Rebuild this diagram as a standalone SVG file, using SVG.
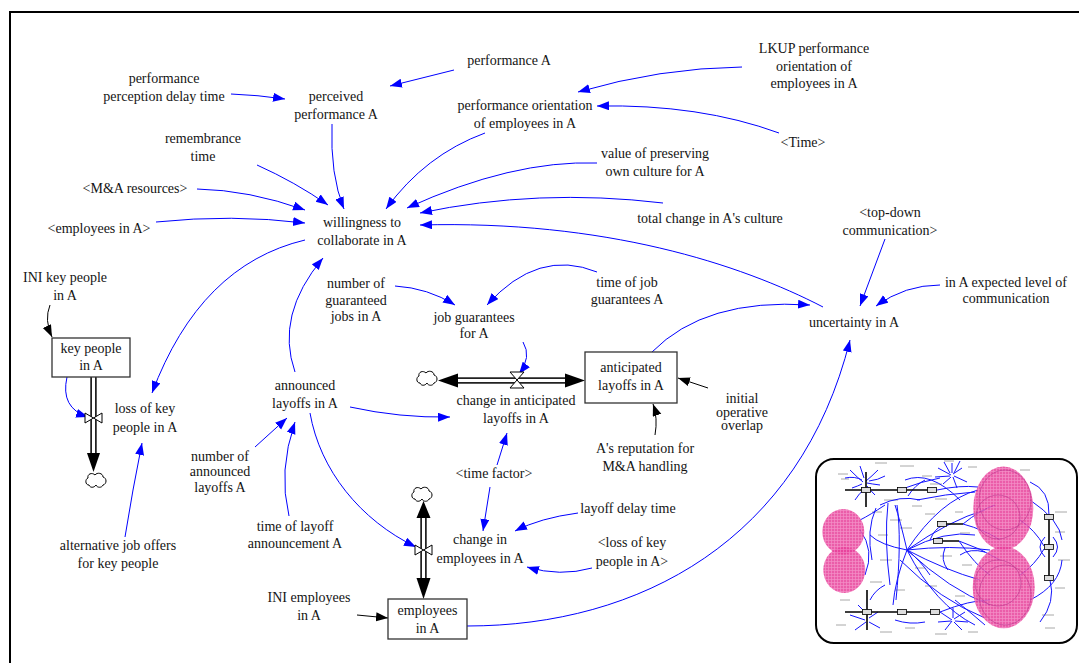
<svg xmlns="http://www.w3.org/2000/svg" width="1079" height="663" viewBox="0 0 1079 663">
  <style>
    .lbl { font-family: "Liberation Serif", "Times New Roman", serif; font-size: 14px; fill: #141414; text-anchor: middle; }
    .link { fill: none; stroke: #0000ff; stroke-width: 1; marker-end: url(#ab); }
    .klink { fill: none; stroke: #000; stroke-width: 1; marker-end: url(#ak); }
    .stock { fill: #fff; stroke: #333; stroke-width: 1.3; }
    .pipe-o { fill: none; stroke: #222; stroke-width: 6.5; }
    .pipe-i { fill: none; stroke: #fff; stroke-width: 3; }
    .valve { fill: #fff; stroke: #000; stroke-width: 1; }
    .head { fill: #000; }
    .cloud { fill: #fff; stroke: #000; stroke-width: 1; }
    .mini-blue { fill: none; stroke: #1414ff; stroke-width: 1; }
    .mini-flow { fill: none; stroke: #000; stroke-width: 1.6; }
    .mini-box { fill: #ddd; stroke: #000; stroke-width: 0.8; }
    .mini-txt { fill: none; stroke: #a8a8a8; stroke-width: 1; }
    .blob { fill: url(#grid); opacity: 0.85; }
    .ring { fill: none; stroke: #b8308a; stroke-width: 0.8; opacity: 0.7; }
  </style>
  <defs>
    <marker id="ab" markerUnits="userSpaceOnUse" markerWidth="13" markerHeight="10" refX="12" refY="4.5" orient="auto">
      <path d="M0,0 L12,4.5 L0,9 Z" fill="#0000ff"/>
    </marker>
    <marker id="ak" markerUnits="userSpaceOnUse" markerWidth="13" markerHeight="10" refX="12" refY="4.5" orient="auto">
      <path d="M0,0 L12,4.5 L0,9 Z" fill="#000"/>
    </marker>
    <path id="cloudShape" class="cloud" d="M-7,5 C-11,5 -11,-1 -8,-2 C-9,-6 -4,-8 -1,-5 C1,-8 7,-7 7,-3 C11,-2 11,4 7,5 C6,8 1,8 0,5 C-2,8 -6,8 -7,5 Z"/>
    <pattern id="grid" width="3" height="3" patternUnits="userSpaceOnUse">
      <rect width="3" height="3" fill="#e8409a"/>
      <path d="M0,0.5 H3 M0.5,0 V3" stroke="#f27dbd" stroke-width="0.7"/>
    </pattern>
  </defs>

  <rect width="1079" height="663" fill="#fff"/>
  <!-- sheet frame -->
  <path d="M10,663 V12 H1079" fill="none" stroke="#000" stroke-width="2"/>

  <!-- material flows: pipes, valves, clouds -->
  <g id="flows">
    <path class="pipe-o" d="M93.5,377 V454"/>
    <path class="pipe-i" d="M93.5,377 V454"/>
    <polygon class="head" points="87,453 100,453 93.5,472"/>
    <use href="#cloudShape" x="96" y="480"/>

    <path class="pipe-o" d="M457,380.5 H566"/>
    <path class="pipe-i" d="M457,380.5 H566"/>
    <polygon class="head" points="458,373.5 458,387.5 438,380.5"/>
    <polygon class="head" points="565,373.5 565,387.5 585,380.5"/>
    <use href="#cloudShape" x="427" y="378"/>

    <path class="pipe-o" d="M423.5,517 V579"/>
    <path class="pipe-i" d="M423.5,517 V579"/>
    <polygon class="head" points="416.5,518 430.5,518 423.5,501"/>
    <polygon class="head" points="416.5,578 430.5,578 423.5,599"/>
    <use href="#cloudShape" x="422" y="494"/>
  </g>

  <!-- causal links -->
  <g id="connectors">
    <path class="link" d="M231,94 Q258,95 285,99"/>
    <path class="link" d="M454,70 L390,86"/>
    <path class="link" d="M742,67 Q660,68 578,92"/>
    <path class="link" d="M779,133 Q700,104 597,106"/>
    <path class="link" d="M332,124 Q330,175 344,209"/>
    <path class="link" d="M257,165 Q295,182 328,205"/>
    <path class="link" d="M197,189 Q249,190 305,210"/>
    <path class="link" d="M156,222 Q232,214 305,223"/>
    <path class="link" d="M485,133 Q425,155 386,209"/>
    <path class="link" d="M597,163 Q512,160 407,208"/>
    <path class="link" d="M663,203 Q538,188 420,213"/>
    <path class="link" d="M823,307 C740,264 605,220 420,225"/>
    <path class="link" d="M305,240 Q200,265 152,393"/>
    <path class="link" d="M295,372 Q275,315 323,258"/>
    <path class="link" d="M395,286 Q428,288 455,305"/>
    <path class="link" d="M597,272 Q538,248 487,305"/>
    <path class="link" d="M523,342 Q532,357 519,374"/>
    <path class="link" d="M652,352 Q705,298 810,305"/>
    <path class="link" d="M885,239 L860,306"/>
    <path class="link" d="M940,285 Q905,285 876,306"/>
    <path class="link" d="M467,626 C640,626 800,540 850,340"/>
    <path class="link" d="M350,407 Q400,418 450,417"/>
    <path class="link" d="M255,447 L287,418"/>
    <path class="link" d="M289,516 Q278,471 295,422"/>
    <path class="link" d="M310,413 C320,470 360,520 416,547"/>
    <path class="link" d="M497,465 L507,433"/>
    <path class="link" d="M490,487 L483,531"/>
    <path class="link" d="M578,513 Q540,518 515,531"/>
    <path class="link" d="M592,568 Q560,577 527,567"/>
    <path class="link" d="M125,537 Q132.5,490 142,443"/>
    <path class="link" d="M67,377 Q60,408 88,417"/>
    <path class="klink" d="M50,305 Q44,320 52,337"/>
    <path class="klink" d="M357,615 L388,618"/>
    <path class="klink" d="M708,388 L678,378"/>
    <path class="klink" d="M655,435 Q658,418 653,404"/>
  </g>

  <!-- valves drawn over the pipes -->
  <g id="valves">
    <path class="valve" d="M85,413 L102,423 L102,413 L85,423 Z"/>
    <path class="valve" d="M510,372 L524,372 L510,388 L524,388 Z"/>
    <path class="valve" d="M415,545 L432,555 L432,545 L415,555 Z"/>
  </g>

  <!-- stocks -->
  <g id="key-people-in-A">
    <rect class="stock" x="52" y="338" width="78" height="39"/>
    <text class="lbl" x="91" y="353">key people</text>
    <text class="lbl" x="91" y="370">in A</text>
  </g>
  <g id="anticipated-layoffs-in-A">
    <rect class="stock" x="585" y="352" width="92" height="51"/>
    <text class="lbl" x="631" y="372">anticipated</text>
    <text class="lbl" x="631" y="390">layoffs in A</text>
  </g>
  <g id="employees-in-A">
    <rect class="stock" x="388" y="599" width="79" height="40"/>
    <text class="lbl" x="427.5" y="615">employees</text>
    <text class="lbl" x="427.5" y="633">in A</text>
  </g>

  <!-- variables -->
  <g id="performance-perception-delay-time">
    <text class="lbl" x="164" y="83">performance</text>
    <text class="lbl" x="164" y="101">perception delay time</text>
  </g>
  <g id="perceived-performance-A">
    <text class="lbl" x="336" y="101">perceived</text>
    <text class="lbl" x="336" y="119">performance A</text>
  </g>
  <g id="performance-A">
    <text class="lbl" x="509" y="65">performance A</text>
  </g>
  <g id="performance-orientation">
    <text class="lbl" x="525" y="110">performance orientation</text>
    <text class="lbl" x="525" y="128">of employees in A</text>
  </g>
  <g id="lkup-performance-orientation">
    <text class="lbl" x="814" y="53">LKUP performance</text>
    <text class="lbl" x="814" y="71">orientation of</text>
    <text class="lbl" x="814" y="88">employees in A</text>
  </g>
  <g id="time">
    <text class="lbl" x="803" y="147">&lt;Time&gt;</text>
  </g>
  <g id="remembrance-time">
    <text class="lbl" x="203" y="143">remembrance</text>
    <text class="lbl" x="203" y="161">time</text>
  </g>
  <g id="ma-resources">
    <text class="lbl" x="135" y="193">&lt;M&amp;A resources&gt;</text>
  </g>
  <g id="employees-in-A-shadow">
    <text class="lbl" x="99" y="233">&lt;employees in A&gt;</text>
  </g>
  <g id="willingness-to-collaborate">
    <text class="lbl" x="362" y="227">willingness to</text>
    <text class="lbl" x="362" y="245">collaborate in A</text>
  </g>
  <g id="value-of-preserving-culture">
    <text class="lbl" x="655" y="158">value of preserving</text>
    <text class="lbl" x="655" y="176">own culture for A</text>
  </g>
  <g id="total-change-in-culture">
    <text class="lbl" x="710" y="223">total change in A's culture</text>
  </g>
  <g id="top-down-communication">
    <text class="lbl" x="890" y="217">&lt;top-down</text>
    <text class="lbl" x="890" y="235">communication&gt;</text>
  </g>
  <g id="ini-key-people">
    <text class="lbl" x="65" y="282">INI key people</text>
    <text class="lbl" x="65" y="300">in A</text>
  </g>
  <g id="number-of-guaranteed-jobs">
    <text class="lbl" x="356" y="288">number of</text>
    <text class="lbl" x="356" y="305">guaranteed</text>
    <text class="lbl" x="356" y="321">jobs in A</text>
  </g>
  <g id="time-of-job-guarantees">
    <text class="lbl" x="627" y="287">time of job</text>
    <text class="lbl" x="627" y="304">guarantees A</text>
  </g>
  <g id="expected-level-of-communication">
    <text class="lbl" x="1006" y="287">in A expected level of</text>
    <text class="lbl" x="1006" y="303">communication</text>
  </g>
  <g id="job-guarantees">
    <text class="lbl" x="474" y="322">job guarantees</text>
    <text class="lbl" x="474" y="338">for A</text>
  </g>
  <g id="uncertainty-in-A">
    <text class="lbl" x="854" y="327">uncertainty in A</text>
  </g>
  <g id="announced-layoffs">
    <text class="lbl" x="305" y="390">announced</text>
    <text class="lbl" x="305" y="408">layoffs in A</text>
  </g>
  <g id="loss-of-key-people">
    <text class="lbl" x="145" y="413">loss of key</text>
    <text class="lbl" x="145" y="432">people in A</text>
  </g>
  <g id="change-in-anticipated-layoffs">
    <text class="lbl" x="516" y="405">change in anticipated</text>
    <text class="lbl" x="516" y="423">layoffs in A</text>
  </g>
  <g id="initial-operative-overlap">
    <text class="lbl" x="742" y="403">initial</text>
    <text class="lbl" x="742" y="417">operative</text>
    <text class="lbl" x="742" y="430">overlap</text>
  </g>
  <g id="reputation-for-ma-handling">
    <text class="lbl" x="645" y="453">A's reputation for</text>
    <text class="lbl" x="645" y="471">M&amp;A handling</text>
  </g>
  <g id="number-of-announced-layoffs">
    <text class="lbl" x="220" y="461">number of</text>
    <text class="lbl" x="220" y="476">announced</text>
    <text class="lbl" x="220" y="492">layoffs A</text>
  </g>
  <g id="time-factor">
    <text class="lbl" x="494" y="478">&lt;time factor&gt;</text>
  </g>
  <g id="layoff-delay-time">
    <text class="lbl" x="628" y="513">layoff delay time</text>
  </g>
  <g id="time-of-layoff-announcement">
    <text class="lbl" x="295" y="531">time of layoff</text>
    <text class="lbl" x="295" y="548">announcement A</text>
  </g>
  <g id="change-in-employees">
    <text class="lbl" x="480" y="544">change in</text>
    <text class="lbl" x="480" y="563">employees in A</text>
  </g>
  <g id="alternative-job-offers">
    <text class="lbl" x="118" y="550">alternative job offers</text>
    <text class="lbl" x="118" y="568">for key people</text>
  </g>
  <g id="loss-of-key-people-shadow">
    <text class="lbl" x="632" y="547">&lt;loss of key</text>
    <text class="lbl" x="632" y="566">people in A&gt;</text>
  </g>
  <g id="ini-employees">
    <text class="lbl" x="309" y="602">INI employees</text>
    <text class="lbl" x="309" y="620">in A</text>
  </g>

  <!-- overview thumbnail of the whole model -->
  <g id="overview">
    <rect x="816" y="459" width="261" height="184" rx="18" fill="#fff" stroke="#000" stroke-width="2"/>
    <g class="mini-txt">
      <path d="M838,474 h10 M841,479 h8 M875,463 h12 M900,466 h14 M922,476 h10 M944,461 h10 M968,467 h9 M930,484 h12 M884,500 h14 M912,506 h10 M935,499 h12 M872,512 h10 M890,520 h12 M925,514 h10 M955,512 h8 M878,535 h10 M900,528 h12 M960,533 h10 M880,560 h12 M915,568 h10 M940,556 h12 M962,565 h10 M870,582 h12 M895,590 h10 M925,586 h12 M955,596 h10 M840,600 h10 M836,625 h10 M880,632 h12 M905,628 h10 M935,634 h12 M968,632 h10 M1055,512 h12 M1055,532 h10 M1058,560 h12 M1055,588 h10 M1042,615 h12 M1045,628 h10 M1020,470 h10 M975,598 h8"/>
    </g>
    <g class="mini-blue">
      <path d="M850,470 Q858,478 863,482 M845,478 Q855,476 862,480 M878,470 Q872,476 866,481 M880,485 Q872,484 867,483 M852,488 Q858,486 862,484 M875,495 Q870,490 867,486 M855,500 Q860,492 864,490 M860,466 L864,478 M885,476 Q878,480 869,481"/>
      <path d="M938,468 L951,475 M962,468 L953,474 M967,482 L954,476 M943,484 L951,477 M957,488 L953,477 M935,477 L950,476 M952,463 L952,473 M944,462 L950,473 M960,461 L954,473"/>
      <path d="M940,478 Q920,482 905,488 M937,490 Q960,485 978,487 M880,505 Q900,495 920,500 M917,500 Q945,494 975,492 M908,496 Q915,485 925,480"/>
      <path d="M888,503 Q884,540 890,585 M897,505 Q902,540 896,600 M885,505 Q870,515 860,520 M876,508 Q866,530 872,560"/>
      <path d="M907,550 Q940,500 978,490 M907,550 Q950,520 985,510 M907,550 Q950,545 990,550 M907,550 Q950,590 990,605 M907,550 Q935,605 975,625 M907,550 Q895,580 893,605 M907,550 Q900,520 895,505 M907,550 Q880,545 870,535 M907,550 Q920,560 930,575 M907,550 Q945,530 975,535 M907,550 Q945,570 980,580"/>
      <path d="M963,524 Q985,530 1000,540 M959,541 Q980,548 1000,560 M963,524 Q980,510 995,505 M959,541 Q975,565 990,575 M945,548 Q940,560 948,570 M930,540 Q935,528 942,526 M960,555 Q970,548 985,552"/>
      <path d="M1030,482 Q1050,490 1049,515 M1040,622 Q1056,602 1050,580 M1045,537 Q1035,547 1045,557 M1053,537 Q1062,547 1053,557 M1020,520 Q1035,530 1044,546 M1020,575 Q1035,565 1044,549 M1030,500 Q1060,520 1062,540 M1030,600 Q1060,585 1062,560"/>
      <path d="M940,612 L952,620 M965,612 L954,619 M945,630 L952,621 M962,630 L954,622 M953,608 L953,618 M938,622 L951,621 M968,622 L955,621"/>
      <path d="M850,615 L865,620 M855,630 L866,622 M880,628 L869,622 M878,612 L869,618 M870,600 Q875,590 885,585 M895,620 Q910,625 925,622 M858,605 L865,612"/>
      <path d="M900,560 Q940,600 985,618 M940,612 Q970,600 990,600 M955,600 Q970,612 985,625 M905,480 Q930,470 960,500 M860,530 Q875,550 865,575"/>
    </g>
    <g class="mini-flow">
      <path d="M845,490 H937 M866,472 V507"/>
      <path d="M845,612 H938 M867,590 V630"/>
      <path d="M1049,517 V578"/>
      <path d="M942,524 H963 M938,541 H959"/>
    </g>
    <g class="mini-box">
      <rect x="861.5" y="487.5" width="9" height="5"/>
      <rect x="897.5" y="487.5" width="9" height="5"/>
      <rect x="927.5" y="487.5" width="9" height="5"/>
      <rect x="862.5" y="609.5" width="9" height="5"/>
      <rect x="897.5" y="609.5" width="9" height="5"/>
      <rect x="930.5" y="609.5" width="9" height="5"/>
      <rect x="1044.5" y="514.5" width="9" height="5"/>
      <rect x="1044.5" y="544.5" width="9" height="5"/>
      <rect x="1044.5" y="575.5" width="9" height="5"/>
      <rect x="937.5" y="521.5" width="9" height="5"/>
      <rect x="933.5" y="538.5" width="9" height="5"/>
    </g>
    <ellipse class="blob" cx="843.3" cy="531.7" rx="21" ry="22.7"/>
    <ellipse class="blob" cx="844.3" cy="570" rx="21" ry="23"/>
    <ellipse class="blob" cx="1003.3" cy="508.3" rx="30" ry="41.7"/>
    <ellipse class="blob" cx="1003.7" cy="587.3" rx="31" ry="41"/>
    <circle class="ring" cx="998" cy="517" r="22"/>
    <circle class="ring" cx="998" cy="583" r="23"/>
    <ellipse class="ring" cx="1005" cy="500" rx="26" ry="30"/>
    <ellipse class="ring" cx="1005" cy="595" rx="26" ry="30"/>
  </g>
</svg>
